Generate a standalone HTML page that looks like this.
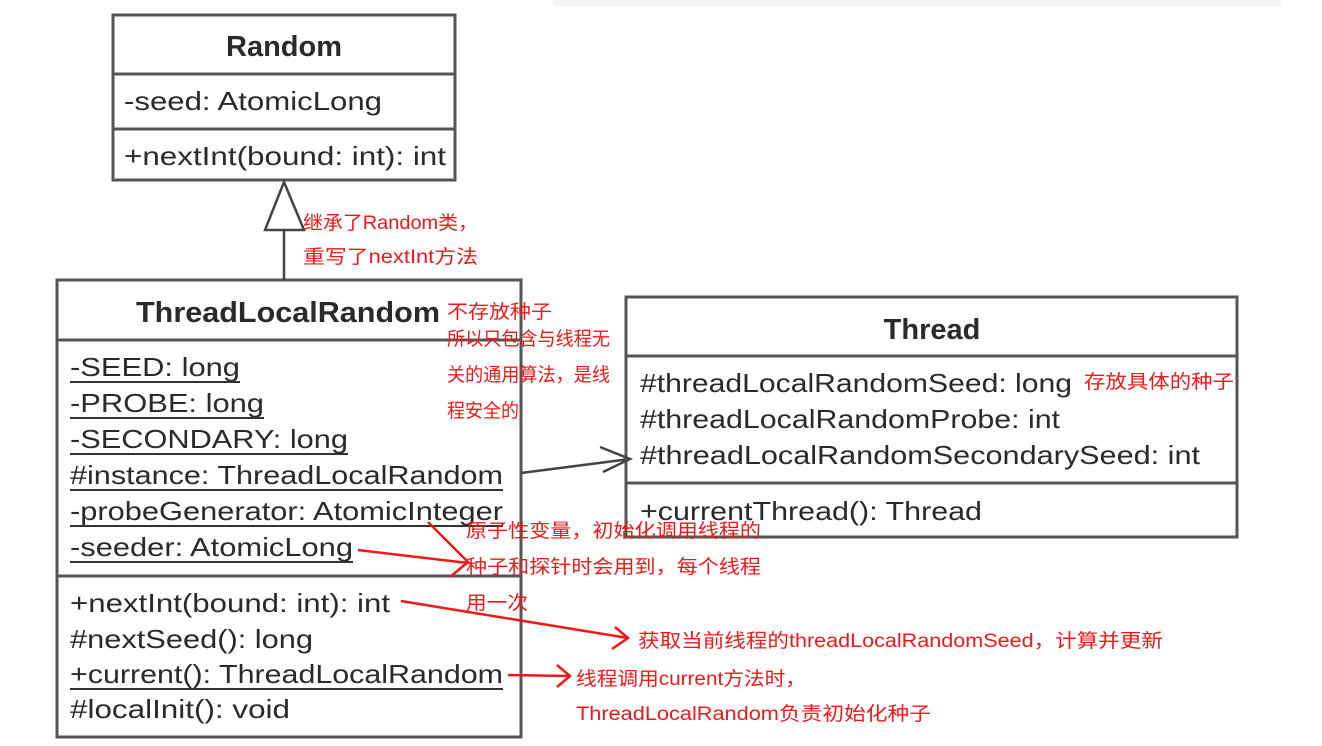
<!DOCTYPE html>
<html><head><meta charset="utf-8"><style>
html,body{margin:0;padding:0;background:#fff;}
svg{display:block;}
.b{font-family:"Liberation Sans",sans-serif;font-size:26px;fill:#2a2a2a;}
.t{font-family:"Liberation Sans",sans-serif;font-size:29px;font-weight:bold;fill:#2a2a2a;}
.r{font-family:"Liberation Sans","Noto Sans CJK SC",sans-serif;font-size:19px;fill:#f01818;}
</style></head><body>
<svg width="1322" height="746" viewBox="0 0 1322 746" xmlns="http://www.w3.org/2000/svg">
<rect x="553" y="0" width="728" height="6" fill="#f4f4f4"/>
<g fill="none" stroke="#555" stroke-width="3">
<rect x="113" y="15" width="342" height="165"/>
<line x1="113" y1="74" x2="455" y2="74"/>
<line x1="113" y1="129" x2="455" y2="129"/>
<rect x="57" y="280" width="464" height="457"/>
<line x1="57" y1="340" x2="521" y2="340"/>
<line x1="57" y1="576" x2="521" y2="576"/>
<rect x="626" y="297" width="611" height="240"/>
<line x1="626" y1="356" x2="1237" y2="356"/>
<line x1="626" y1="483" x2="1237" y2="483"/>
</g>
<g stroke="#444" stroke-width="2.5" fill="none">
<line x1="284" y1="230" x2="284" y2="280"/>
<polygon points="284,182 265,230 304,230" fill="#fff"/>
<line x1="521" y1="473" x2="630" y2="459"/>
<polyline points="600,447 630,459 603,472"/>
</g>
<text class="t" x="284" y="56" text-anchor="middle">Random</text>
<text class="b" x="124" y="110" textLength="258" lengthAdjust="spacingAndGlyphs">-seed: AtomicLong</text>
<text class="b" x="124" y="165" textLength="322" lengthAdjust="spacingAndGlyphs">+nextInt(bound: int): int</text>
<text class="t" x="136" y="322" textLength="304" lengthAdjust="spacingAndGlyphs">ThreadLocalRandom</text>
<text class="b" x="70" y="376" textLength="170" lengthAdjust="spacingAndGlyphs">-SEED: long</text>
<text class="b" x="70" y="412" textLength="194" lengthAdjust="spacingAndGlyphs">-PROBE: long</text>
<text class="b" x="70" y="448" textLength="278" lengthAdjust="spacingAndGlyphs">-SECONDARY: long</text>
<text class="b" x="70" y="484" textLength="433" lengthAdjust="spacingAndGlyphs">#instance: ThreadLocalRandom</text>
<text class="b" x="70" y="520" textLength="433" lengthAdjust="spacingAndGlyphs">-probeGenerator: AtomicInteger</text>
<text class="b" x="70" y="556" textLength="283" lengthAdjust="spacingAndGlyphs">-seeder: AtomicLong</text>
<g stroke="#333" stroke-width="2">
<line x1="70" y1="382" x2="240" y2="382"/>
<line x1="70" y1="418" x2="264" y2="418"/>
<line x1="70" y1="454" x2="348" y2="454"/>
<line x1="70" y1="490" x2="503" y2="490"/>
<line x1="70" y1="526" x2="503" y2="526"/>
<line x1="70" y1="562" x2="353" y2="562"/>
<line x1="70" y1="689" x2="503" y2="689"/>
</g>
<text class="b" x="70" y="612" textLength="320" lengthAdjust="spacingAndGlyphs">+nextInt(bound: int): int</text>
<text class="b" x="70" y="648" textLength="243" lengthAdjust="spacingAndGlyphs">#nextSeed(): long</text>
<text class="b" x="70" y="683" textLength="433" lengthAdjust="spacingAndGlyphs">+current(): ThreadLocalRandom</text>
<text class="b" x="70" y="718" textLength="220" lengthAdjust="spacingAndGlyphs">#localInit(): void</text>
<text class="t" x="932" y="339" text-anchor="middle">Thread</text>
<text class="b" x="640" y="392" textLength="432" lengthAdjust="spacingAndGlyphs">#threadLocalRandomSeed: long</text>
<text class="b" x="640" y="428" textLength="420" lengthAdjust="spacingAndGlyphs">#threadLocalRandomProbe: int</text>
<text class="b" x="640" y="464" textLength="560" lengthAdjust="spacingAndGlyphs">#threadLocalRandomSecondarySeed: int</text>
<text class="b" x="640" y="520" textLength="342" lengthAdjust="spacingAndGlyphs">+currentThread(): Thread</text>
<g stroke="#f01818" stroke-width="2.5" fill="none">
<line x1="358" y1="550" x2="468" y2="563"/>
<polyline points="428,522 468,562 450,577"/>
<line x1="401" y1="601" x2="628" y2="638"/>
<polyline points="615,627 628,638 612,649"/>
<line x1="508" y1="675" x2="570" y2="676"/>
<polyline points="557,665 570,676 557,687"/>
</g>
<text class="r" x="303" y="229" textLength="175" lengthAdjust="spacingAndGlyphs">继承了Random类，</text>
<text class="r" x="303" y="263" textLength="175" lengthAdjust="spacingAndGlyphs">重写了nextInt方法</text>
<text class="r" x="447" y="318" textLength="105" lengthAdjust="spacingAndGlyphs">不存放种子</text>
<text class="r" x="447" y="345" textLength="163" lengthAdjust="spacingAndGlyphs">所以只包含与线程无</text>
<text class="r" x="447" y="381" textLength="163" lengthAdjust="spacingAndGlyphs">关的通用算法，是线</text>
<text class="r" x="447" y="417" textLength="72" lengthAdjust="spacingAndGlyphs">程安全的</text>
<text class="r" x="1084" y="388" textLength="150" lengthAdjust="spacingAndGlyphs">存放具体的种子</text>
<text class="r" x="466" y="537" textLength="295" lengthAdjust="spacingAndGlyphs">原子性变量，初始化调用线程的</text>
<text class="r" x="466" y="573" textLength="295" lengthAdjust="spacingAndGlyphs">种子和探针时会用到，每个线程</text>
<text class="r" x="466" y="609" textLength="62" lengthAdjust="spacingAndGlyphs">用一次</text>
<text class="r" x="638" y="647" textLength="525" lengthAdjust="spacingAndGlyphs">获取当前线程的threadLocalRandomSeed，计算并更新</text>
<text class="r" x="576" y="685" textLength="230" lengthAdjust="spacingAndGlyphs">线程调用current方法时，</text>
<text class="r" x="576" y="720" textLength="355" lengthAdjust="spacingAndGlyphs">ThreadLocalRandom负责初始化种子</text>
</svg>
</body></html>
